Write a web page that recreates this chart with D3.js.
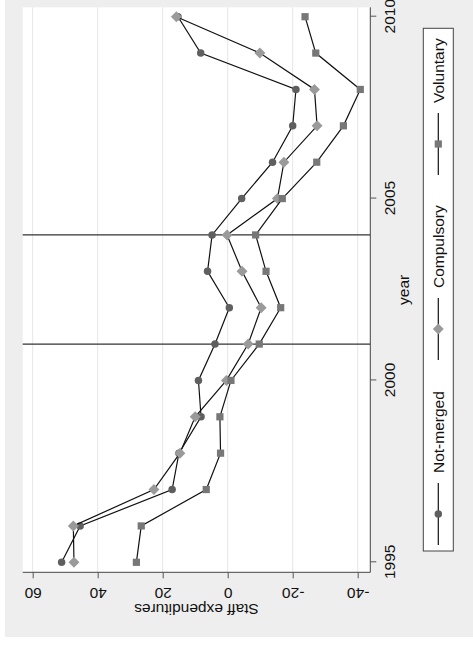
<!DOCTYPE html>
<meta charset="UTF-8">
<script src="https://cdnjs.cloudflare.com/ajax/libs/d3/7.4.4/d3.min.js"></script>
<style>
    body { margin: 0; background: #fff; }
    text { font-family: "Liberation Sans", Arial, sans-serif; fill: #111; }
</style>
<svg id="chart" width="473" height="652"></svg>
<script>
    // values (the whole Stata graph is turned 90deg)
    let years = [1995, 1996, 1997, 1998, 1999, 2000, 2001, 2002, 2003, 2004, 2005, 2006, 2007, 2008, 2009, 2010];
    let notMerged = [51.1, 45.4, 17.1, 15.0, 8.2, 9.0, 3.9, -0.5, 6.2, 4.8, -4.3, -13.8, -20.0, -21.0, 8.3, 15.3];
    let compulsory = [47.3, 47.5, 22.7, 14.7, 10.0, 0.4, -6.3, -10.3, -4.4, 0.2, -15.3, -17.3, -27.5, -26.7, -9.9, 15.8];
    let voluntary = [28.1, 26.6, 6.6, 2.2, 2.4, -1.0, -9.7, -16.3, -11.8, -8.6, -16.8, -27.4, -35.6, -40.8, -27.1, -23.8];
    let seriesNames = ["Not-merged", "Compulsory", "Voluntary"];
    let yearTicks = [1995, 2000, 2005, 2010];
    let valueTicks = [-40, -20, 0, 20, 40, 60];
    let refYears = [2001, 2004];

    let svg = d3.select("#chart");
    let W = 652, H = 473;   // unrotated graph size

    let g = svg.append("g")
        .attr("transform", "translate(0," + W + ") rotate(-90)");

    g.append("rect").attr("x", 15).attr("y", 5).attr("width", W - 15).attr("height", H - 5)
        .style("fill", "#eeeeee");

    let x = d3.scaleLinear().domain([1995, 2010]).range([89.7, 635.3]);
    let y = d3.scaleLinear().domain([-40, 60]).range([357.7, 32.7]);
    let plotL = 79.7, plotR = 644.7, plotT = 22.7, plotB = 370.3;

    g.append("rect").attr("x", plotL).attr("y", plotT)
        .attr("width", plotR - plotL).attr("height", plotB - plotT)
        .style("fill", "#fff");

    // grid
    g.append("g").selectAll("line").data(valueTicks).enter().append("line")
        .attr("x1", plotL).attr("x2", plotR)
        .attr("y1", d => y(d)).attr("y2", d => y(d))
        .style("stroke", "#e6e6e6").style("stroke-width", 1);

    // reference lines
    g.append("g").selectAll("line").data(refYears).enter().append("line")
        .attr("x1", d => x(d)).attr("x2", d => x(d))
        .attr("y1", plotT).attr("y2", plotB)
        .style("stroke", "#333").style("stroke-width", 1.3);

    // axes
    let yAxis = d3.axisLeft(y).tickValues(valueTicks).tickSize(6).tickFormat(d => "" + d);
    let ya = g.append("g").attr("transform", "translate(" + plotL + ",0)").call(yAxis);
    let xAxis = d3.axisBottom(x).tickValues(yearTicks).tickSize(6).tickFormat(d => "" + d);
    let xa = g.append("g").attr("transform", "translate(0," + plotB + ")").call(xAxis);
    [ya, xa].forEach(function (a) {
        a.select(".domain").style("stroke", "#444").style("stroke-width", 1);
        a.selectAll(".tick line").style("stroke", "#555");
        a.selectAll("text").style("font-size", "15.5px").style("fill", "#111")
            .style("font-family", "'Liberation Sans', Arial, sans-serif");
    });
    ya.select(".domain").attr("d", "M0," + plotT + "V" + plotB);
    xa.select(".domain").attr("d", "M" + plotL + ",0H" + plotR);
    ya.selectAll(".tick text")
        .attr("x", null).attr("dy", null)
        .attr("text-anchor", "middle")
        .attr("transform", "translate(-16,0) rotate(-90)");
    xa.selectAll(".tick text").attr("y", 24.7).attr("dy", null);

    g.append("text").attr("transform", "translate(48," + ((plotT + plotB) / 2) + ") rotate(-90)")
        .attr("text-anchor", "middle").style("font-size", "15.5px")
        .text("Staff expenditures");
    g.append("text").attr("x", (plotL + plotR) / 2).attr("y", 409)
        .attr("text-anchor", "middle").style("font-size", "15.5px")
        .text("year");

    // series: circle, diamond (square turned 45deg), square
    let colors = ["#5f5f5f", "#9a9a9a", "#777777"];
    let shapes = [d3.symbolCircle, d3.symbolSquare, d3.symbolSquare];
    let turns = [0, 45, 0];
    let sizes = [44, 60, 52];
    let allSeries = [notMerged, compulsory, voluntary];
    let line = d3.line().x(d => x(d[0])).y(d => y(d[1]));

    allSeries.forEach(function (vals, i) {
        let pts = years.map((yr, j) => [yr, vals[j]]);
        g.append("path").datum(pts).attr("d", line)
            .style("fill", "none").style("stroke", "#111").style("stroke-width", 1.2);
        g.append("g").selectAll("path").data(pts).enter().append("path")
            .attr("transform", d => "translate(" + x(d[0]) + "," + y(d[1]) + ") rotate(" + turns[i] + ")")
            .attr("d", d3.symbol().type(shapes[i]).size(sizes[i]))
            .style("fill", colors[i]);
    });

    // legend
    let legY = 438.3;
    g.append("rect").attr("x", 101).attr("y", 423.3).attr("width", 522.7).attr("height", 30)
        .style("fill", "#fff").style("stroke", "#444").style("stroke-width", 1);
    let legStarts = [107, 292, 477];
    seriesNames.forEach(function (name, i) {
        let lx = legStarts[i];
        g.append("line").attr("x1", lx).attr("x2", lx + 62).attr("y1", legY).attr("y2", legY)
            .style("stroke", "#111").style("stroke-width", 1.2);
        g.append("path").attr("transform", "translate(" + (lx + 31) + "," + legY + ") rotate(" + turns[i] + ")")
            .attr("d", d3.symbol().type(shapes[i]).size(sizes[i]))
            .style("fill", colors[i]);
        g.append("text").attr("x", lx + 72).attr("y", legY + 5.6)
            .style("font-size", "15.5px").text(name);
    });
</script>
